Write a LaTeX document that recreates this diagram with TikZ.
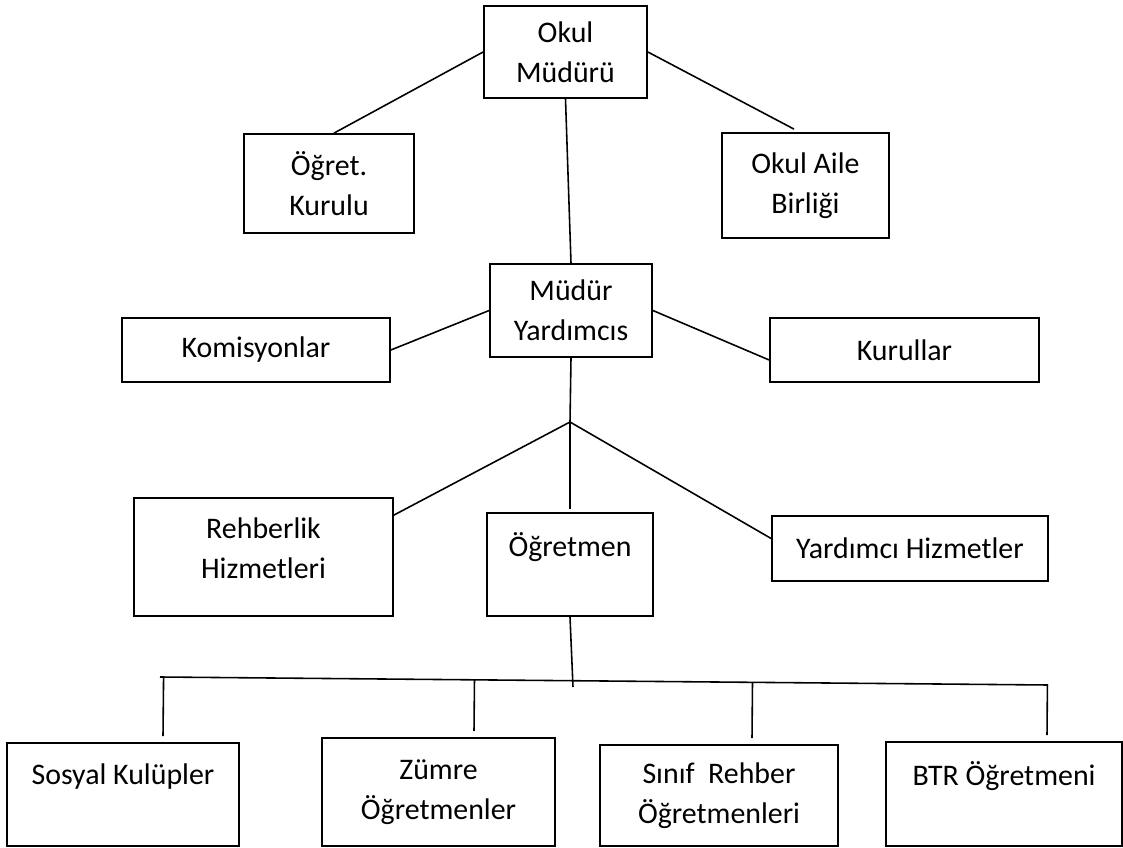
\documentclass[tikz,border=0pt]{standalone}
\usepackage{fontspec}
\setmainfont{Carlito}
\usetikzlibrary{calc,positioning}

\begin{document}
\begin{tikzpicture}[scale=1,
  box/.style={draw,line width=1pt,align=center,inner sep=2pt,
    font=\fontsize{17}{22.8}\selectfont},
  link/.style={line width=0.9pt}]
  \useasboundingbox (0,0) rectangle (22.46,16.94);
  \node[box,minimum width=3.26cm,minimum height=1.84cm] (mudur) at (11.31,15.90) {Okul\\Müdürü};
  \node[box,minimum width=3.40cm,minimum height=1.98cm] (ogret) at (6.58,13.27) {Öğret.\\Kurulu};
  \node[box,minimum width=3.34cm,minimum height=2.10cm] (aile) at (16.11,13.23) {Okul Aile\\Birliği};
  \node[box,minimum width=3.24cm,minimum height=1.86cm] (myard) at (11.42,10.73) {Müdür\\Yardımcıs};
  \node[box,minimum width=5.36cm,minimum height=1.28cm] (komis) at (5.12,9.94) {Komisyonlar};
  \node[box,minimum width=5.38cm,minimum height=1.28cm] (kurul) at (18.09,9.94) {Kurullar};
  \coordinate (dal) at (11.40,8.50);
  \node[box,minimum width=5.18cm,minimum height=2.36cm,text depth=10pt] (rehber) at (5.27,5.80) {Rehberlik\\Hizmetleri};
  \node[box,minimum width=3.32cm,minimum height=2.06cm] (ogretmen) at (11.40,5.65) {Öğretmen\\~};
  \node[box,minimum width=5.52cm,minimum height=1.30cm] (yardimci) at (18.20,5.97) {Yardımcı Hizmetler};
  \coordinate (bl) at (3.20,3.40);
  \coordinate (br) at (20.96,3.24);
  \coordinate (alt) at (11.46,3.20);
  \node[box,minimum width=4.64cm,minimum height=2.06cm] (sosyal) at (2.46,1.05) {Sosyal Kulüpler\\~};
  \node[box,minimum width=4.66cm,minimum height=2.16cm] (zumre) at (8.77,1.10) {Zümre\\Öğretmenler};
  \node[box,minimum width=4.76cm,minimum height=2.02cm] (sinif) at (14.38,1.03) {Sınıf~ Rehber\\Öğretmenleri};
  \node[box,minimum width=4.72cm,minimum height=2.08cm] (btr) at (20.08,1.06) {BTR Öğretmeni\\~};

  \draw[link] (mudur.west) -- ([xshift=0.1cm]ogret.north);
  \draw[link] (mudur.east) -- ([xshift=-0.23cm,yshift=0.06cm]aile.north);
  \draw[link] (mudur.south) -- (myard.north);
  \draw[link] (myard.west) -- (komis.east);
  \draw[link] (myard.east) -- ([yshift=-0.2cm]kurul.west);
  \draw[link] (myard.south) -- (dal);
  \draw[link] (dal) -- ([yshift=-0.36cm]rehber.north east);
  \draw[link] (dal) -- ([yshift=0.06cm]ogretmen.north);
  \draw[link] (dal) -- ([yshift=0.2cm]yardimci.west);
  \draw[link] (ogretmen.south) -- (alt);
  \draw[link] (bl) -- (br);
  \foreach \b/\dx in {sosyal/0.80,zumre/0.71,sinif/0.66,btr/0.86}{
    \draw[link] ($(\b.north)+(\dx,0.12)$) -- ($(bl)!([xshift=\dx cm]\b.north)!(br)$);
  }
\end{tikzpicture}
\end{document}
